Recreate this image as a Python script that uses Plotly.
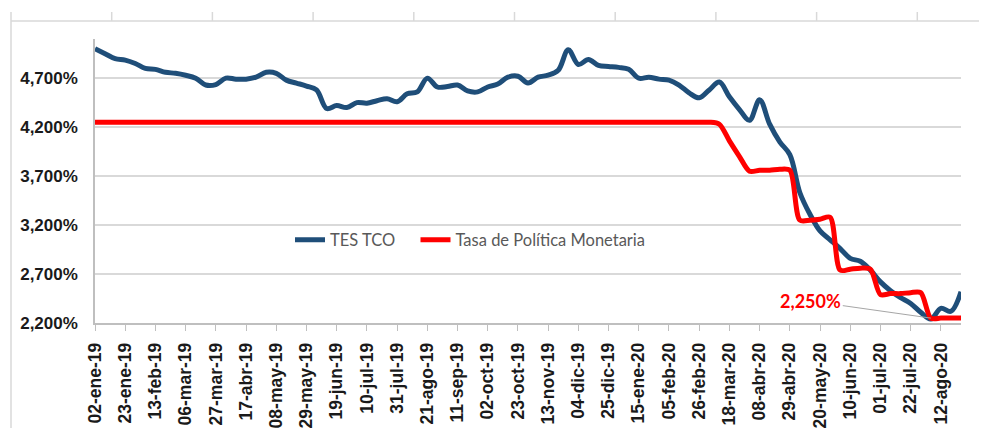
import pandas as pd
import plotly.graph_objects as go

# ---------------- data ----------------
week_start = "2019-01-02"
n_weeks = 87
dates = pd.date_range(week_start, periods=n_weeks, freq="7D")

tes_tco = [
    5.00, 4.95, 4.90, 4.885, 4.85, 4.80, 4.79, 4.76, 4.75, 4.73,
    4.70, 4.63, 4.635, 4.70, 4.69, 4.69, 4.71, 4.76, 4.75, 4.68,
    4.65, 4.62, 4.58, 4.39, 4.42, 4.40, 4.45, 4.445, 4.47, 4.49,
    4.46, 4.54, 4.56, 4.70, 4.61, 4.615, 4.63, 4.57, 4.56, 4.61,
    4.64, 4.71, 4.72, 4.65, 4.71, 4.73, 4.78, 4.99, 4.84, 4.89,
    4.83, 4.82, 4.81, 4.79, 4.70, 4.71, 4.69, 4.68, 4.63, 4.55,
    4.50, 4.58, 4.66, 4.51, 4.38, 4.27, 4.48, 4.23, 4.05, 3.92,
    3.53, 3.31, 3.14, 3.05, 2.96, 2.86, 2.83, 2.74, 2.62, 2.53,
    2.46, 2.40, 2.31, 2.24, 2.35, 2.32, 2.52,
]

tasa_politica = [4.25] * 62 + [
    4.23, 4.06, 3.90, 3.75, 3.76, 3.76, 3.77, 3.76,
    3.25, 3.25, 3.26, 3.28, 2.74, 2.75, 2.76, 2.75,
    2.49, 2.50, 2.50, 2.51, 2.51, 2.25, 2.25, 2.25, 2.25,
]

x_tick_labels = [
    "02-ene-19", "23-ene-19", "13-feb-19", "06-mar-19", "27-mar-19", "17-abr-19",
    "08-may-19", "29-may-19", "19-jun-19", "10-jul-19", "31-jul-19", "21-ago-19",
    "11-sep-19", "02-oct-19", "23-oct-19", "13-nov-19", "04-dic-19", "25-dic-19",
    "15-ene-20", "05-feb-20", "26-feb-20", "18-mar-20", "08-abr-20", "29-abr-20",
    "20-may-20", "10-jun-20", "01-jul-20", "22-jul-20", "12-ago-20",
]
y_tick_values = [2.2, 2.7, 3.2, 3.7, 4.2, 4.7]
y_tick_labels = ["2,200%", "2,700%", "3,200%", "3,700%", "4,200%", "4,700%"]

series_names = ["TES TCO", "Tasa de Política Monetaria"]
annotation_text = "2,250%"
annotation_index = 83

# ---------------- layout constants ----------------
OFF = 8  # page body margin offset
W, H = 987 - OFF, 428 - OFF
ML, MR, MT, MB = 87, 26, 31, 105
PW, PH = W - ML - MR, H - MT - MB

def px_x(p):  # screenshot x -> paper
    return (p - OFF - ML) / PW

def px_y(p):  # screenshot y -> paper
    return (H - MB - (p - OFF)) / PH

x_tick_dates = pd.date_range(week_start, periods=len(x_tick_labels), freq="21D")

fig = go.Figure()
fig.add_trace(go.Scatter(
    x=dates, y=tes_tco, name=series_names[0], mode="lines", legend="legend",
    line=dict(color="#1F4E79", width=5, shape="spline", smoothing=1.0),
))
fig.add_trace(go.Scatter(
    x=dates, y=tasa_politica, name=series_names[1], mode="lines", legend="legend2",
    line=dict(color="#FF0000", width=5, shape="spline", smoothing=0.8),
))

x_tick_font = dict(family="Liberation Sans, Arial", size=17.5, color="#1a1a1a", weight="bold")
y_tick_font = dict(family="Liberation Sans, Arial", size=17, color="#1a1a1a", weight="bold")

fig.update_xaxes(
    type="date", automargin=False,
    range=[dates[0], dates[-1]],
    tickmode="array", tickvals=x_tick_dates, ticktext=x_tick_labels,
    tickangle=-90, tickfont=x_tick_font,
    ticks="outside", ticklen=6, tickcolor="#BFBFBF", tickwidth=1,
    showline=True, linecolor="#BFBFBF", linewidth=1.5,
    showgrid=False, zeroline=False,
    ticklabelstandoff=5,
)
fig.update_yaxes(
    automargin=False,
    range=[2.2, 5.1],
    tickmode="array", tickvals=y_tick_values, ticktext=y_tick_labels,
    tickfont=y_tick_font,
    showline=True, linecolor="#BFBFBF", linewidth=1.5,
    showgrid=True, gridcolor="#D9D9D9", gridwidth=1.5,
    zeroline=False, ticks="", ticklabelstandoff=12,
)

# frame decoration (top rule with ticks and left rule)
shapes = [
    dict(type="line", xref="paper", yref="paper", x0=px_x(11), x1=px_x(990),
         y0=px_y(21), y1=px_y(21), line=dict(color="#D9D9D9", width=1.5)),
    dict(type="line", xref="paper", yref="paper", x0=px_x(11), x1=px_x(11),
         y0=px_y(12), y1=px_y(430), line=dict(color="#D9D9D9", width=1.5)),
]
for i in range(9):
    xp = 111.7 + i * 100.7
    shapes.append(dict(type="line", xref="paper", yref="paper", x0=px_x(xp), x1=px_x(xp),
                       y0=px_y(12), y1=px_y(21), line=dict(color="#D9D9D9", width=1.5)))

legend_font = dict(family="Lato", size=16.5, color="#595959")

fig.update_layout(
    width=W, height=H,
    margin=dict(l=ML, r=MR, t=MT, b=MB, pad=0, autoexpand=False),
    plot_bgcolor="white", paper_bgcolor="white",
    showlegend=True,
    legend=dict(
        orientation="h", x=px_x(290), y=px_y(240), xanchor="left", yanchor="middle",
        font=legend_font, bgcolor="rgba(0,0,0,0)", itemwidth=30,
    ),
    legend2=dict(
        orientation="h", x=px_x(415.5), y=px_y(240), xanchor="left", yanchor="middle",
        font=legend_font, bgcolor="rgba(0,0,0,0)", itemwidth=30,
    ),
    shapes=shapes,
    annotations=[dict(
        x=dates[annotation_index], y=tasa_politica[annotation_index],
        xref="x", yref="y", text=annotation_text, showarrow=True,
        arrowhead=0, arrowwidth=1, arrowcolor="#A6A6A6",
        ax=-120, ay=-17,
        font=dict(family="Lato", size=18, color="#FF0000", weight="bold"),
    )],
)

fig.write_html("out.html")
